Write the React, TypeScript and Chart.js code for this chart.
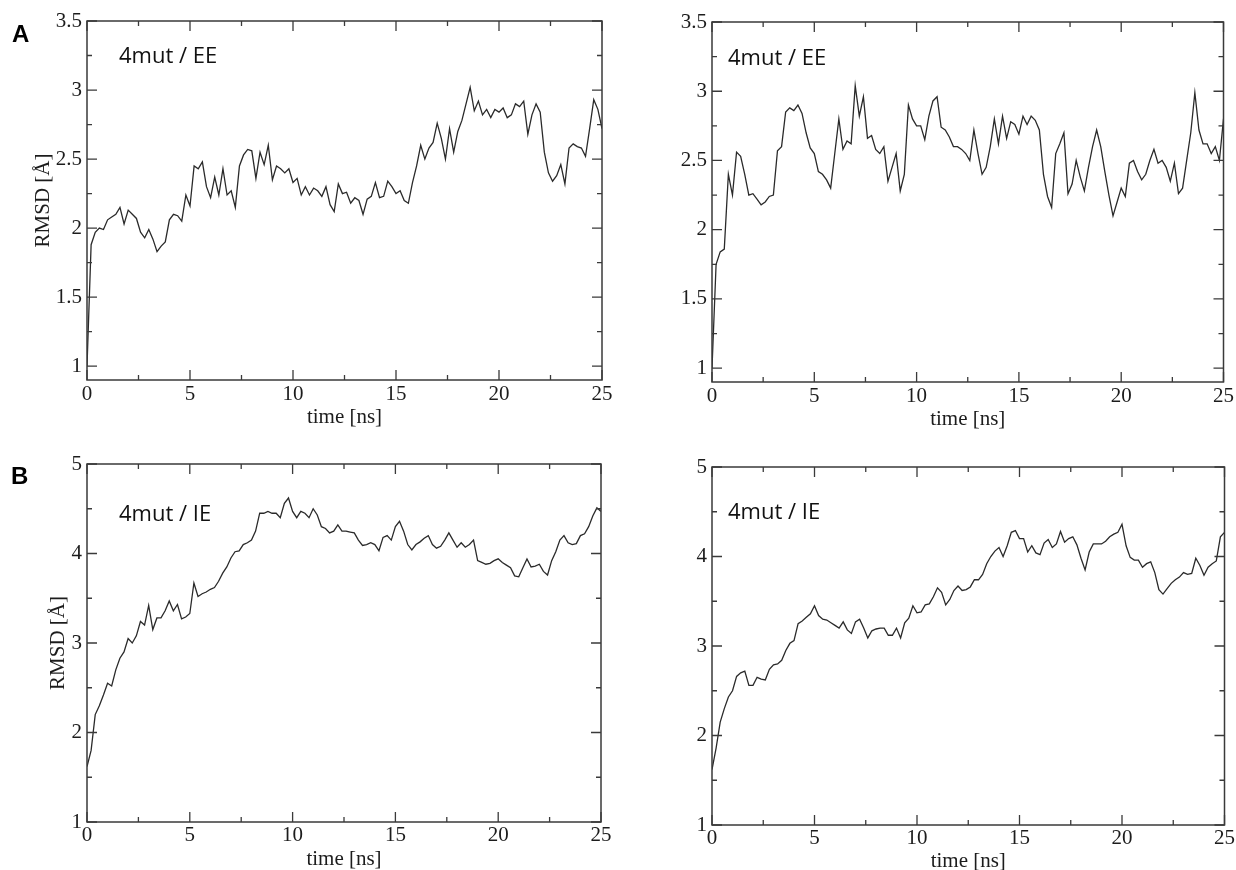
import React, { useEffect, useRef } from "react";
import { Chart, registerables } from "chart.js";

Chart.register(...registerables);

// ---------------- data ----------------
const timeNs = [
  0, 0.2, 0.4, 0.6, 0.8,
  1, 1.2, 1.4, 1.6, 1.8,
  2, 2.2, 2.4, 2.6, 2.8,
  3, 3.2, 3.4, 3.6, 3.8,
  4, 4.2, 4.4, 4.6, 4.8,
  5, 5.2, 5.4, 5.6, 5.8,
  6, 6.2, 6.4, 6.6, 6.8,
  7, 7.2, 7.4, 7.6, 7.8,
  8, 8.2, 8.4, 8.6, 8.8,
  9, 9.2, 9.4, 9.6, 9.8,
  10, 10.2, 10.4, 10.6, 10.8,
  11, 11.2, 11.4, 11.6, 11.8,
  12, 12.2, 12.4, 12.6, 12.8,
  13, 13.2, 13.4, 13.6, 13.8,
  14, 14.2, 14.4, 14.6, 14.8,
  15, 15.2, 15.4, 15.6, 15.8,
  16, 16.2, 16.4, 16.6, 16.8,
  17, 17.2, 17.4, 17.6, 17.8,
  18, 18.2, 18.4, 18.6, 18.8,
  19, 19.2, 19.4, 19.6, 19.8,
  20, 20.2, 20.4, 20.6, 20.8,
  21, 21.2, 21.4, 21.6, 21.8,
  22, 22.2, 22.4, 22.6, 22.8,
  23, 23.2, 23.4, 23.6, 23.8,
  24, 24.2, 24.4, 24.6, 24.8,
  25,
];

// A, left: 4mut / EE run 1
const rmsdEE1 = [
  1.0, 1.88, 1.97, 2.0, 1.99,
  2.06, 2.08, 2.1, 2.15, 2.03,
  2.13, 2.1, 2.07, 1.97, 1.93,
  1.99, 1.92, 1.83, 1.87, 1.9,
  2.06, 2.1, 2.09, 2.05, 2.24,
  2.16, 2.45, 2.43, 2.48, 2.3,
  2.22, 2.37, 2.24, 2.43, 2.24,
  2.27, 2.15, 2.45, 2.53, 2.57,
  2.56, 2.36, 2.55, 2.46, 2.6,
  2.35, 2.45, 2.43, 2.4, 2.43,
  2.33, 2.36, 2.24, 2.3, 2.24,
  2.29, 2.27, 2.23, 2.3, 2.17,
  2.12, 2.32, 2.25, 2.26, 2.18,
  2.22, 2.2, 2.1, 2.21, 2.23,
  2.33, 2.22, 2.23, 2.34, 2.3,
  2.25, 2.27, 2.2, 2.18, 2.33,
  2.45, 2.6, 2.5, 2.58, 2.62,
  2.76, 2.65, 2.5, 2.72, 2.55,
  2.7, 2.78, 2.9, 3.02, 2.85,
  2.92, 2.82, 2.86, 2.8, 2.86,
  2.84, 2.87, 2.8, 2.82, 2.9,
  2.88, 2.92, 2.68, 2.82, 2.9,
  2.84, 2.55, 2.4, 2.34, 2.38,
  2.46, 2.32, 2.58, 2.61, 2.59,
  2.58, 2.52, 2.72, 2.93, 2.86,
  2.72,
];

// A, right: 4mut / EE run 2
const rmsdEE2 = [
  1.0, 1.75, 1.84, 1.86, 2.4,
  2.25, 2.56, 2.53, 2.4, 2.25,
  2.26, 2.22, 2.18, 2.2, 2.24,
  2.25, 2.57, 2.6, 2.85, 2.88,
  2.86, 2.9, 2.84, 2.7, 2.59,
  2.55, 2.42, 2.4, 2.36, 2.3,
  2.55, 2.8, 2.58, 2.64, 2.62,
  3.04, 2.82, 2.96, 2.66, 2.68,
  2.58, 2.55, 2.6, 2.35, 2.45,
  2.55, 2.28, 2.4, 2.9, 2.8,
  2.75, 2.75, 2.65, 2.82, 2.93,
  2.96, 2.74, 2.72, 2.67, 2.6,
  2.6, 2.58, 2.55, 2.5, 2.72,
  2.55, 2.4, 2.45, 2.6, 2.8,
  2.62, 2.82, 2.66, 2.78, 2.76,
  2.69, 2.82, 2.76, 2.82, 2.79,
  2.72, 2.4, 2.24, 2.16, 2.55,
  2.62, 2.7, 2.26, 2.33, 2.5,
  2.38, 2.28, 2.45, 2.6, 2.72,
  2.6, 2.42, 2.25, 2.1, 2.2,
  2.3, 2.24, 2.48, 2.5, 2.42,
  2.36, 2.4, 2.5, 2.58, 2.48,
  2.5, 2.45, 2.35, 2.48, 2.26,
  2.3, 2.5, 2.7, 2.99, 2.72,
  2.62, 2.62, 2.55, 2.6, 2.5,
  2.8,
];

// B, left: 4mut / IE run 1
const rmsdIE1 = [
  1.62, 1.8, 2.2, 2.3, 2.42,
  2.55, 2.52, 2.7, 2.83, 2.9,
  3.05, 3.0, 3.08, 3.24, 3.2,
  3.42, 3.15, 3.28, 3.28, 3.36,
  3.47, 3.36, 3.43, 3.27, 3.29,
  3.33, 3.67, 3.52, 3.55, 3.57,
  3.6, 3.62, 3.69, 3.78, 3.85,
  3.95, 4.02, 4.03, 4.1, 4.12,
  4.15, 4.25, 4.45, 4.45, 4.47,
  4.45, 4.45, 4.4, 4.56, 4.62,
  4.47, 4.4, 4.47, 4.45, 4.4,
  4.5, 4.43, 4.3, 4.28, 4.23,
  4.25, 4.32, 4.25, 4.25, 4.24,
  4.23, 4.15, 4.09, 4.1, 4.12,
  4.1, 4.03, 4.18, 4.2, 4.15,
  4.3, 4.36, 4.25, 4.1, 4.04,
  4.1, 4.13, 4.17, 4.2, 4.1,
  4.06, 4.08, 4.15, 4.23, 4.15,
  4.07, 4.12, 4.07, 4.1, 4.15,
  3.92, 3.9, 3.88, 3.89, 3.92,
  3.94, 3.9, 3.87, 3.84, 3.75,
  3.74, 3.84, 3.94, 3.85, 3.86,
  3.88, 3.8, 3.76, 3.92, 4.02,
  4.15, 4.2, 4.12, 4.1, 4.11,
  4.2, 4.22, 4.3, 4.42, 4.51,
  4.47,
];

// B, right: 4mut / IE run 2
const rmsdIE2 = [
  1.62, 1.86, 2.15, 2.3, 2.43,
  2.5, 2.66, 2.7, 2.72, 2.56,
  2.56, 2.65, 2.63, 2.62, 2.74,
  2.79, 2.8, 2.84, 2.95, 3.03,
  3.06, 3.25, 3.28, 3.32, 3.36,
  3.45, 3.34, 3.3, 3.29, 3.26,
  3.23, 3.2, 3.27, 3.18, 3.14,
  3.27, 3.3, 3.2, 3.09, 3.17,
  3.19, 3.2, 3.2, 3.12, 3.12,
  3.2, 3.09, 3.26, 3.31, 3.45,
  3.37, 3.38, 3.46, 3.47, 3.55,
  3.65, 3.6, 3.46, 3.52, 3.62,
  3.67, 3.62, 3.63, 3.66, 3.74,
  3.74, 3.8, 3.92, 4.0, 4.06,
  4.1, 4.0, 4.12, 4.27, 4.29,
  4.2, 4.2, 4.05, 4.12, 4.04,
  4.02, 4.15, 4.19, 4.1, 4.14,
  4.28, 4.16, 4.2, 4.22, 4.13,
  3.98, 3.85, 4.05, 4.14, 4.14,
  4.14, 4.17, 4.22, 4.25, 4.27,
  4.36, 4.12, 3.99, 3.96, 3.96,
  3.88, 3.92, 3.94, 3.82, 3.63,
  3.58, 3.64, 3.7, 3.74, 3.77,
  3.82, 3.8, 3.81, 3.98, 3.9,
  3.79, 3.88, 3.92, 3.95, 4.22,
  4.27,
];

const xMajorTicks = [0, 5, 10, 15, 20, 25];
const xMinorTicks = [2.5, 7.5, 12.5, 17.5, 22.5];
const yMajorTicksEE = [1, 1.5, 2, 2.5, 3, 3.5];
const yMinorTicksEE = [1.25, 1.75, 2.25, 2.75, 3.25];
const yMajorTicksIE = [1, 2, 3, 4, 5];
const yMinorTicksIE = [1.5, 2.5, 3.5, 4.5];

const xTitle = "time [ns]";
const yTitle = "RMSD [Å]";
const panelLetters = ["A", "B"];
const annotationEE = "4mut / EE";
const annotationIE = "4mut / IE";

// ---------------- layout ----------------
const CANVAS_W = 618;
const CANVAS_H = 435;
const SERIF = '"Liberation Serif", "Times New Roman", Times, serif';
const INK = "#1c1c1c";
const FRAME = "#3a3a3a";

type Area = { left: number; top: number; right: number; bottom: number };
type PanelSpec = {
  key: string;
  x: number;
  y: number;
  area: Area;
  values: number[];
  yMin: number;
  yMax: number;
  yMajor: number[];
  yMinor: number[];
  showYTitle: boolean;
  yTitleX: number;
  padLeft: number;
  xTickPad: number;
  xTitleY: number;
  note: string;
  noteX: number;
  noteCapTop: number;
};

const panels: PanelSpec[] = [
  {
    key: "A-left", x: 0, y: 0,
    area: { left: 87, top: 21, right: 602, bottom: 380 },
    values: rmsdEE1, yMin: 0.9, yMax: 3.5, yMajor: yMajorTicksEE, yMinor: yMinorTicksEE,
    showYTitle: true, yTitleX: 43, padLeft: 20, xTickPad: 2, xTitleY: 417,
    note: annotationEE, noteX: 119, noteCapTop: 47,
  },
  {
    key: "A-right", x: 618, y: 0,
    area: { left: 94, top: 22, right: 607, bottom: 382 },
    values: rmsdEE2, yMin: 0.9, yMax: 3.5, yMajor: yMajorTicksEE, yMinor: yMinorTicksEE,
    showYTitle: false, yTitleX: 0, padLeft: 30, xTickPad: 2, xTitleY: 419,
    note: annotationEE, noteX: 110, noteCapTop: 49,
  },
  {
    key: "B-left", x: 0, y: 435,
    area: { left: 87, top: 29, right: 601, bottom: 387 },
    values: rmsdIE1, yMin: 1, yMax: 5, yMajor: yMajorTicksIE, yMinor: yMinorTicksIE,
    showYTitle: true, yTitleX: 58, padLeft: 20, xTickPad: 1, xTitleY: 424,
    note: annotationIE, noteX: 119, noteCapTop: 70,
  },
  {
    key: "B-right", x: 618, y: 435,
    area: { left: 94, top: 32, right: 607, bottom: 390 },
    values: rmsdIE2, yMin: 1, yMax: 5, yMajor: yMajorTicksIE, yMinor: yMinorTicksIE,
    showYTitle: false, yTitleX: 0, padLeft: 30, xTickPad: 1, xTitleY: 426,
    note: annotationIE, noteX: 110, noteCapTop: 68,
  },
];

function PanelChart({ spec }: { spec: PanelSpec }) {
  const ref = useRef<HTMLCanvasElement | null>(null);

  useEffect(() => {
    const canvas = ref.current;
    if (!canvas) return;
    const a = spec.area;

    const frameTicks = {
      id: "frameTicks",
      afterDatasetsDraw(chart: any) {
        const { ctx, chartArea } = chart;
        const xs = chart.scales.x;
        const ys = chart.scales.y;
        const { left, top, right, bottom } = chartArea;
        ctx.save();
        ctx.strokeStyle = FRAME;
        ctx.lineWidth = 1.5;
        ctx.strokeRect(left, top, right - left, bottom - top);
        ctx.lineWidth = 1.3;
        const vTick = (v: number, len: number) => {
          const px = xs.getPixelForValue(v);
          ctx.beginPath();
          ctx.moveTo(px, bottom);
          ctx.lineTo(px, bottom - len);
          ctx.moveTo(px, top);
          ctx.lineTo(px, top + len);
          ctx.stroke();
        };
        const hTick = (v: number, len: number) => {
          const py = ys.getPixelForValue(v);
          ctx.beginPath();
          ctx.moveTo(left, py);
          ctx.lineTo(left + len, py);
          ctx.moveTo(right, py);
          ctx.lineTo(right - len, py);
          ctx.stroke();
        };
        xMajorTicks.forEach((v) => vTick(v, 10));
        xMinorTicks.forEach((v) => vTick(v, 5));
        spec.yMajor.forEach((v) => hTick(v, 10));
        spec.yMinor.forEach((v) => hTick(v, 5));
        ctx.restore();
      },
    };

    const chart = new Chart(canvas, {
      type: "line",
      data: {
        datasets: [
          {
            data: timeNs.map((t, i) => ({ x: t, y: spec.values[i] })),
            borderColor: "#2a2a2a",
            borderWidth: 1.3,
            pointRadius: 0,
            fill: false,
            tension: 0,
          },
        ],
      },
      options: {
        responsive: false,
        animation: false,
        events: [],
        layout: {
          padding: { left: spec.padLeft, top: a.top, right: CANVAS_W - a.right, bottom: 0 },
        },
        plugins: {
          legend: { display: false },
          tooltip: { enabled: false },
        },
        scales: {
          x: {
            type: "linear",
            min: 0,
            max: 25,
            grid: { display: false, drawTicks: false },
            border: { display: false },
            afterBuildTicks: (s: any) => {
              s.ticks = xMajorTicks.map((v) => ({ value: v }));
            },
            afterFit: (s: any) => {
              s.height = CANVAS_H - a.bottom;
            },
            ticks: {
              padding: spec.xTickPad,
              color: INK,
              maxRotation: 0,
              autoSkip: false,
              font: { family: SERIF, size: 21 },
              callback: (v: any) => String(Number(v)),
            },
            title: {
              display: true,
              text: xTitle,
              color: INK,
              font: { family: SERIF, size: 21, lineHeight: 1 },
              padding: { top: 0, bottom: CANVAS_H - spec.xTitleY - 10.5 },
            },
          },
          y: {
            type: "linear",
            min: spec.yMin,
            max: spec.yMax,
            grid: { display: false, drawTicks: false },
            border: { display: false },
            afterBuildTicks: (s: any) => {
              s.ticks = spec.yMajor.map((v) => ({ value: v }));
            },
            afterFit: (s: any) => {
              s.width = a.left - spec.padLeft;
            },
            ticks: {
              padding: 5,
              color: INK,
              autoSkip: false,
              font: { family: SERIF, size: 21 },
              callback: (v: any) => String(Number(v)),
            },
            title: {
              display: spec.showYTitle,
              text: yTitle,
              color: INK,
              font: { family: SERIF, size: 21, lineHeight: 1.2 },
              padding: { top: Math.max(0, spec.yTitleX - spec.padLeft - 12.6), bottom: 0 },
            },
          },
        },
      },
      plugins: [frameTicks],
    } as any);

    return () => chart.destroy();
  }, [spec]);

  return (
    <>
      <canvas
        ref={ref}
        width={CANVAS_W}
        height={CANVAS_H}
        style={{ position: "absolute", left: spec.x, top: spec.y, width: CANVAS_W, height: CANVAS_H }}
      />
      <div
        style={{
          position: "absolute",
          left: spec.x + spec.noteX,
          top: spec.y + spec.noteCapTop - 4,
          font: '22px "Open Sans", "Noto Sans", sans-serif',
          lineHeight: "22px",
          color: "#111",
          whiteSpace: "nowrap",
        }}
      >
        {spec.note}
      </div>
    </>
  );
}

export default function App() {
  return (
    <div
      style={{
        position: "absolute",
        left: 0,
        top: 0,
        width: 1236,
        height: 870,
        background: "#ffffff",
        overflow: "hidden",
      }}
    >
      {panels.map((p) => (
        <PanelChart key={p.key} spec={p} />
      ))}
      <div
        style={{
          position: "absolute",
          left: 12,
          top: 22,
          font: 'bold 24px "Liberation Sans", Arial, sans-serif',
          lineHeight: "24px",
          color: "#000",
        }}
      >
        {panelLetters[0]}
      </div>
      <div
        style={{
          position: "absolute",
          left: 11,
          top: 464,
          font: 'bold 24px "Liberation Sans", Arial, sans-serif',
          lineHeight: "24px",
          color: "#000",
        }}
      >
        {panelLetters[1]}
      </div>
    </div>
  );
}
